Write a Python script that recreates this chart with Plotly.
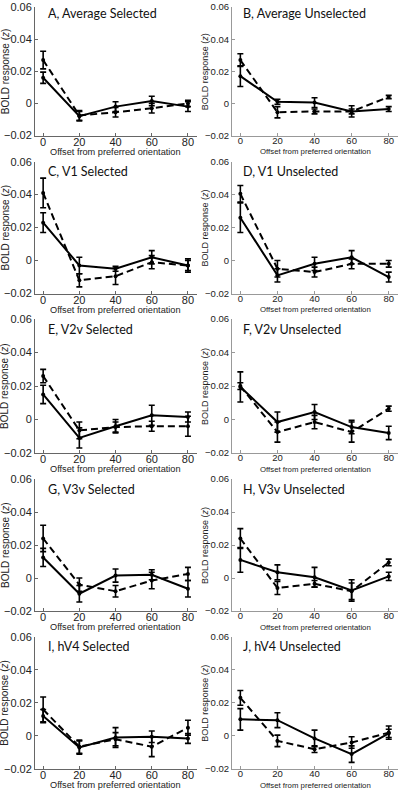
import plotly.graph_objects as go
from plotly.subplots import make_subplots

offsets = [0, 20, 40, 60, 80]
panel_titles = ["A, Average Selected", "B, Average Unselected",
                "C, V1 Selected", "D, V1 Unselected",
                "E, V2v Selected", "F, V2v Unselected",
                "G, V3v Selected", "H, V3v Unselected",
                "I, hV4 Selected", "J, hV4 Unselected"]

# solid series (mean, error) per panel
solid_A = [0.016, -0.008, -0.002, 0.0015, -0.002]
solid_A_err = [0.0035, 0.003, 0.003, 0.003, 0.003]
dash_A = [0.027, -0.0075, -0.0055, -0.003, 0.0]
dash_A_err = [0.0055, 0.003, 0.003, 0.003, 0.002]

solid_B = [0.017, 0.001, 0.0005, -0.005, -0.0035]
solid_B_err = [0.0065, 0.0015, 0.003, 0.0035, 0.0015]
dash_B = [0.027, -0.0055, -0.005, -0.005, 0.004]
dash_B_err = [0.004, 0.0035, 0.0015, 0.0015, 0.001]

solid_C = [0.023, -0.003, -0.005, 0.002, -0.003]
solid_C_err = [0.006, 0.005, 0.0015, 0.004, 0.004]
dash_C = [0.041, -0.012, -0.0095, -0.001, -0.003]
dash_C_err = [0.009, 0.004, 0.005, 0.004, 0.003]

solid_D = [0.026, -0.009, -0.002, 0.002, -0.010]
solid_D_err = [0.009, 0.004, 0.004, 0.004, 0.003]
dash_D = [0.0405, -0.005, -0.007, -0.002, -0.002]
dash_D_err = [0.005, 0.005, 0.003, 0.003, 0.002]

solid_E = [0.015, -0.011, -0.004, 0.0025, 0.0015]
solid_E_err = [0.0055, 0.006, 0.004, 0.006, 0.003]
dash_E = [0.026, -0.0065, -0.0045, -0.004, -0.004]
dash_E_err = [0.004, 0.005, 0.003, 0.003, 0.006]

solid_F = [0.0195, -0.0015, 0.0045, -0.0045, -0.008]
solid_F_err = [0.009, 0.006, 0.0045, 0.004, 0.004]
dash_F = [0.020, -0.0075, -0.0015, -0.0075, 0.0065]
dash_F_err = [0.002, 0.006, 0.004, 0.006, 0.0015]

solid_G = [0.0125, -0.0095, 0.0015, 0.002, -0.0065]
solid_G_err = [0.0055, 0.005, 0.004, 0.003, 0.005]
dash_G = [0.024, -0.004, -0.008, -0.0015, 0.0025]
dash_G_err = [0.008, 0.004, 0.0035, 0.005, 0.004]

solid_H = [0.011, 0.0035, 0.0005, -0.0075, 0.001]
solid_H_err = [0.0075, 0.0045, 0.006, 0.0065, 0.0025]
dash_H = [0.024, -0.006, -0.0035, -0.008, 0.0095]
dash_H_err = [0.006, 0.004, 0.002, 0.005, 0.002]

solid_I = [0.012, -0.007, -0.001, -0.0005, -0.0015]
solid_I_err = [0.004, 0.004, 0.006, 0.0035, 0.003]
dash_I = [0.016, -0.0065, -0.002, -0.0065, 0.005]
dash_I_err = [0.0075, 0.004, 0.004, 0.006, 0.0045]

solid_J = [0.010, 0.0095, -0.0015, -0.011, 0.0015]
solid_J_err = [0.0065, 0.0045, 0.005, 0.005, 0.0025]
dash_J = [0.023, -0.003, -0.008, -0.004, 0.002]
dash_J_err = [0.0045, 0.0035, 0.002, 0.0035, 0.004]

y_tickvals = [-0.02, 0, 0.02, 0.04, 0.06]
y_ticktext = ["\u22120.02", "0", "0.02", "0.04", "0.06"]
x_tickvals = [0, 20, 40, 60, 80]
x_ticktext = ["0", "20", "40", "60", "80"]

panels = [
    (solid_A, solid_A_err, dash_A, dash_A_err),
    (solid_B, solid_B_err, dash_B, dash_B_err),
    (solid_C, solid_C_err, dash_C, dash_C_err),
    (solid_D, solid_D_err, dash_D, dash_D_err),
    (solid_E, solid_E_err, dash_E, dash_E_err),
    (solid_F, solid_F_err, dash_F, dash_F_err),
    (solid_G, solid_G_err, dash_G, dash_G_err),
    (solid_H, solid_H_err, dash_H, dash_H_err),
    (solid_I, solid_I_err, dash_I, dash_I_err),
    (solid_J, solid_J_err, dash_J, dash_J_err),
]

W, H = 400, 790
# pixel layout
col_x = [(35, 197), (232, 398)]
row_y = [(7, 135.5), (161.5, 293.5), (319, 453), (479, 611), (636.5, 769)]

fig = make_subplots(rows=5, cols=2)

ann = []
for i, (s, se, d, de) in enumerate(panels):
    r, c = i // 2, i % 2
    for vals, errs, dash in [(d, de, "7px,4px"), (s, se, "solid")]:
        fig.add_trace(go.Scatter(
            x=offsets, y=vals, mode="lines+markers",
            line=dict(color="black", width=2, dash=dash),
            marker=dict(color="black", size=4),
            error_y=dict(type="data", array=errs, visible=True,
                         color="black", thickness=1.6, width=3),
            cliponaxis=False,
            showlegend=False), row=r + 1, col=c + 1)
    left = c == 0
    tfs = 11 if left else 9.5
    axcol = "#666666" if left else "#999999"
    x0, x1 = col_x[c]
    y0, y1 = row_y[r]
    fig.update_xaxes(domain=[x0 / W, x1 / W], range=[-4.5, 85], tickvals=x_tickvals,
                     ticktext=x_ticktext, ticks="inside", ticklen=3, tickcolor=axcol,
                     showline=True, linecolor=axcol, linewidth=1, showgrid=False,
                     zeroline=False, automargin=False, ticklabelstandoff=-4,
                     ticklabeloverflow="allow",
                     tickfont=dict(family="Liberation Sans", size=tfs, color="#222"),
                     row=r + 1, col=c + 1)
    fig.update_yaxes(domain=[1 - y1 / H, 1 - y0 / H], range=[-0.02, 0.0601], tickvals=y_tickvals,
                     ticktext=y_ticktext, ticks="inside", ticklen=3, tickcolor=axcol,
                     showline=True, linecolor=axcol, linewidth=1, showgrid=False,
                     zeroline=False, automargin=False, ticklabeloverflow="allow",
                     tickfont=dict(family="Liberation Sans", size=tfs, color="#222"),
                     row=r + 1, col=c + 1)
    # panel title
    tx = (46 if left else 241) / W
    ty = y0 + (7 if r == 0 else 10)
    ann.append(dict(x=tx, y=1 - ty / H, xref="paper", yref="paper",
                    text=panel_titles[i], showarrow=False, xanchor="left", yanchor="middle",
                    font=dict(family="Lato", size=12.5, color="#111")))
    # y label
    ylx = (5 if left else 205) / W
    ann.append(dict(x=ylx, y=1 - (y0 + y1) / 2 / H, xref="paper", yref="paper",
                    text="BOLD response (<i>z</i>)", showarrow=False, textangle=-90,
                    xanchor="center", yanchor="middle",
                    font=dict(family="Liberation Sans", size=10 if left else 9, color="#222")))
    # x label
    ann.append(dict(x=(x0 + x1) / 2 / W, y=1 - (y1 + 16) / H, xref="paper", yref="paper",
                    text="Offset from preferred orientation", showarrow=False,
                    xanchor="center", yanchor="middle",
                    font=dict(family="Liberation Sans", size=9.2 if left else 7.8, color="#222")))

fig.update_layout(width=W, height=H, margin=dict(l=0, r=0, t=0, b=0),
                  paper_bgcolor="white", plot_bgcolor="white",
                  annotations=ann, showlegend=False)

fig.write_html("out.html", config={"displayModeBar": False},
               post_script="document.body.style.margin='0px';document.body.style.overflow='hidden';")
